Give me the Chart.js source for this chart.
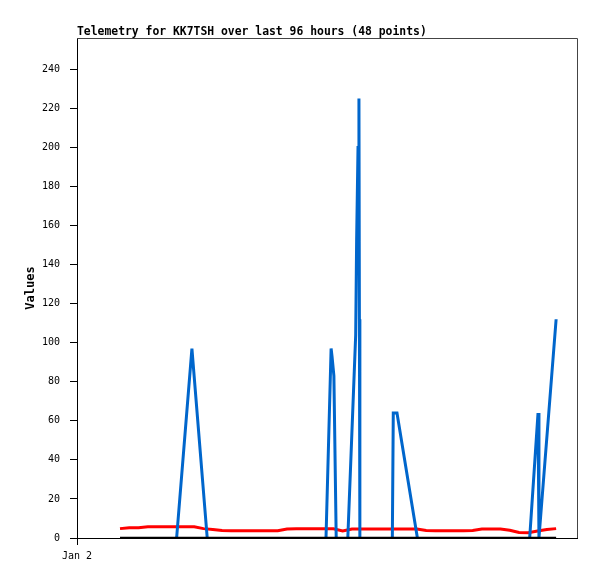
<!DOCTYPE html>
<html>
<head>
<meta charset="utf-8">
<script src="https://cdn.jsdelivr.net/npm/chart.js@4/dist/chart.umd.min.js"></script>
<style>
  html, body { margin: 0; padding: 0; background: #fff; }
  #wrap { width: 597px; height: 579px; }
</style>
</head>
<body>
<div id="wrap"><canvas id="telemetryChart" width="597" height="579"></canvas></div>
<script>
// hours since first sample (48 samples, every 2 hours)
const sampleHours = [0, 2, 4, 6, 8, 10, 12, 14, 16, 18, 20, 22, 24, 26, 28, 30,
    32, 34, 36, 38, 40, 42, 44, 46, 48, 50, 52, 54, 56, 58, 60, 62,
    64, 66, 68, 70, 72, 74, 76, 78, 80, 82, 84, 86, 88, 90, 92, 94];

const redValues = [4.8, 5.3, 5.3, 5.8, 5.8, 5.8, 5.8, 5.8, 5.8, 4.8, 4.3, 3.9, 3.7, 3.7, 3.7, 3.7,
    3.7, 3.7, 4.6, 4.7, 4.7, 4.7, 4.7, 4.7, 3.6, 4.6, 4.6, 4.6, 4.6, 4.6, 4.6, 4.6,
    4.6, 3.9, 3.7, 3.7, 3.7, 3.7, 3.9, 4.6, 4.6, 4.6, 4.0, 2.8, 2.7, 3.6, 4.3, 4.8];

const zeroValues = [0, 0, 0, 0, 0, 0, 0, 0, 0, 0, 0, 0, 0, 0, 0, 0,
    0, 0, 0, 0, 0, 0, 0, 0, 0, 0, 0, 0, 0, 0, 0, 0,
    0, 0, 0, 0, 0, 0, 0, 0, 0, 0, 0, 0, 0, 0, 0, 0];

// blue series: irregular timestamps, null = gap
const blueHours = [12.2, 15.5, 18.8, 31, 44.4, 45.5, 45.7, 46.1, 46.6, 48,
    49.1, 50.8, 51.0, 51.3, 51.5, 51.6, 51.7, 55,
    58.7, 58.9, 59.7, 64.1, 76, 88.3, 90.1, 90.3, 94.0];
const blueValues = [0, 97, 0, null, 0, 97, 93, 83, 0, null,
    0, 104, 152, 200, 225, 112, 0, null,
    0, 64, 64, 0, null, 0, 64, 0, 112];

const xMin = -9.27;
const xMax = 98.5;
const yTicks = [0, 20, 40, 60, 80, 100, 120, 140, 160, 180, 200, 220, 240];
const xTickLabel = 'Jan 2';
const chartTitle = 'Telemetry for KK7TSH over last 96 hours (48 points)';

const pairs = (xs, ys) => xs.map((x, i) => ({ x: x, y: ys[i] }));

const framePlugin = {
    id: 'frame',
    afterDraw(chart) {
        const { ctx, chartArea: a } = chart;
        ctx.save();
        ctx.strokeStyle = '#444';
        ctx.lineWidth = 1;
        ctx.beginPath();
        ctx.moveTo(a.left, a.top + 0.5);
        ctx.lineTo(a.right + 0.5, a.top + 0.5);
        ctx.lineTo(a.right + 0.5, a.bottom);
        ctx.stroke();
        ctx.fillStyle = '#000';
        ctx.font = 'bold 11.4px "DejaVu Sans Mono", monospace';
        ctx.textAlign = 'left';
        ctx.textBaseline = 'alphabetic';
        ctx.fillText(chartTitle, a.left, 34.5);
        ctx.restore();
    }
};

new Chart(document.getElementById('telemetryChart'), {
    type: 'line',
    data: {
        datasets: [
            { label: 'zero', data: pairs(sampleHours, zeroValues), borderColor: '#000', borderWidth: 2.5, order: 0 },
            { label: 'blue', data: pairs(blueHours, blueValues), borderColor: '#0066cc', borderWidth: 3, spanGaps: false, order: 1 },
            { label: 'red', data: pairs(sampleHours, redValues), borderColor: '#ff0000', borderWidth: 3, order: 2 }
        ]
    },
    options: {
        responsive: false,
        animation: false,
        devicePixelRatio: 1,
        layout: { padding: { top: 38, right: 20, left: 0, bottom: 0 } },
        elements: { point: { radius: 0 }, line: { tension: 0, borderJoinStyle: 'miter' } },
        plugins: { legend: { display: false }, tooltip: { enabled: false } },
        scales: {
            x: {
                type: 'linear',
                min: xMin,
                max: xMax,
                afterBuildTicks: s => { s.ticks = [{ value: xMin }]; },
                afterFit: s => { s.height = 41; },
                grid: { drawOnChartArea: false, drawTicks: true, tickLength: 7, color: '#000' },
                border: { color: '#000', width: 1 },
                ticks: {
                    callback: () => xTickLabel,
                    color: '#000',
                    padding: 5,
                    maxRotation: 0,
                    font: { family: '"DejaVu Sans Mono", monospace', size: 10 }
                }
            },
            y: {
                min: 0,
                max: 256,
                afterBuildTicks: s => { s.ticks = yTicks.map(v => ({ value: v })); },
                afterFit: s => { s.width = 77; },
                grid: { drawOnChartArea: false, drawTicks: true, tickLength: 7, color: '#000' },
                border: { color: '#000', width: 1 },
                title: {
                    display: true,
                    text: 'Values',
                    color: '#000',
                    padding: { top: 24, bottom: 0 },
                    font: { family: '"DejaVu Sans Mono", monospace', size: 12, weight: 'bold' }
                },
                ticks: {
                    color: '#000',
                    padding: 10,
                    font: { family: '"DejaVu Sans Mono", monospace', size: 10 }
                }
            }
        }
    },
    plugins: [framePlugin]
});
</script>
</body>
</html>
